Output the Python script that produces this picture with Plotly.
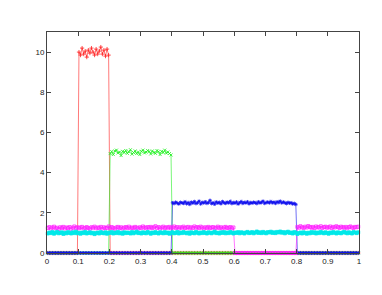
import plotly.graph_objects as go

# bin centres on [0, 1] (200 bins)
x_vals = [round(0.0025 + 0.005 * i, 4) for i in range(200)]

red_high = [10.0, 9.85, 10.2, 9.9, 10.05, 9.75, 10.1, 9.95, 10.2, 10.0,
            9.85, 10.15, 9.9, 10.05, 10.25, 9.9, 10.1, 9.8, 10.15, 9.85]
green_high = [4.95, 5.05, 4.9, 5.08, 5.12, 4.98, 5.02, 4.85, 5.06, 5.0,
              5.1, 4.96, 5.04, 5.14, 4.92, 5.0, 5.08, 4.95, 5.03, 4.9,
              5.06, 5.12, 4.98, 5.02, 5.1, 5.05, 4.93, 5.08, 5.0, 4.96,
              5.1, 5.04, 4.9, 5.06, 5.0, 5.12, 4.97, 5.03, 4.95, 4.88]
blue_high = [2.5, 2.46, 2.53, 2.48, 2.44, 2.52, 2.5, 2.47, 2.55, 2.45,
             2.51, 2.42, 2.53, 2.48, 2.56, 2.46, 2.5, 2.58, 2.44, 2.52,
             2.49, 2.55, 2.47, 2.51, 2.62, 2.46, 2.5, 2.43, 2.54, 2.48,
             2.52, 2.45, 2.56, 2.5, 2.47, 2.53, 2.49, 2.57, 2.46, 2.51,
             2.48, 2.54, 2.44, 2.5, 2.56, 2.47, 2.52, 2.49, 2.55, 2.45,
             2.51, 2.48, 2.53, 2.5, 2.46, 2.55, 2.49, 2.52, 2.58, 2.47,
             2.51, 2.54, 2.49, 2.56, 2.5, 2.53, 2.47, 2.55, 2.51, 2.58,
             2.49, 2.54, 2.5, 2.46, 2.52, 2.48, 2.5, 2.44, 2.47, 2.42]
magenta_a = [1.24, 1.29, 1.22, 1.27, 1.31, 1.23, 1.26, 1.2, 1.28, 1.25,
             1.3, 1.22, 1.27, 1.24, 1.29, 1.21, 1.26, 1.32, 1.24, 1.28,
             1.23, 1.27, 1.3, 1.22, 1.25, 1.29, 1.24, 1.21, 1.28, 1.26,
             1.31, 1.23, 1.27, 1.25, 1.3, 1.22, 1.28, 1.24, 1.26, 1.32,
             1.23, 1.29, 1.25, 1.21, 1.27, 1.3, 1.24, 1.28, 1.22, 1.26,
             1.29, 1.25, 1.31, 1.23, 1.27, 1.24, 1.3, 1.26, 1.22, 1.28,
             1.25, 1.32, 1.27, 1.23, 1.29, 1.26, 1.3, 1.24, 1.28, 1.33,
             1.25, 1.29, 1.22, 1.27, 1.31, 1.24, 1.28, 1.26, 1.3, 1.23,
             1.27, 1.32, 1.25, 1.29, 1.22, 1.28, 1.26, 1.31, 1.24, 1.27,
             1.3, 1.23, 1.28, 1.25, 1.32, 1.26, 1.29, 1.24, 1.31, 1.27,
             1.22, 1.28, 1.25, 1.3, 1.24, 1.27, 1.29, 1.23, 1.26, 1.31,
             1.25, 1.28, 1.22, 1.27, 1.3, 1.24, 1.26, 1.29, 1.23, 1.27]
magenta_b = [1.3, 1.26, 1.33, 1.28, 1.25, 1.31, 1.27, 1.34, 1.29, 1.26,
             1.3, 1.24, 1.32, 1.28, 1.27, 1.33, 1.25, 1.29, 1.31, 1.26,
             1.28, 1.32, 1.24, 1.3, 1.27, 1.33, 1.29, 1.25, 1.31, 1.28,
             1.26, 1.3, 1.23, 1.29, 1.32, 1.27, 1.25, 1.3, 1.28, 1.31]
cyan_vals = [0.97, 1.02, 0.99, 1.04, 0.96, 1.01, 1.05, 0.98, 1.0, 1.03,
             0.95, 1.01, 0.98, 1.04, 1.0, 0.97, 1.03, 0.99, 1.06, 0.98,
             1.01, 0.96, 1.02, 0.99, 1.05, 0.97, 1.0, 1.03, 0.98, 1.01,
             0.94, 0.99, 1.02, 0.97, 1.04, 1.0, 0.98, 1.03, 0.96, 1.01,
             1.0, 1.04, 0.97, 1.02, 0.99, 1.05, 0.98, 1.01, 0.96, 1.03,
             0.99, 1.02, 1.0, 0.97, 1.04, 0.98, 1.02, 1.06, 0.99, 1.01,
             0.97, 1.03, 1.0, 0.98, 1.05, 1.01, 0.96, 1.02, 0.99, 1.04,
             1.0, 0.97, 1.03, 1.01, 0.98, 1.04, 0.99, 1.02, 0.96, 1.01,
             1.03, 0.98, 1.0, 1.05, 0.97, 1.02, 0.99, 1.04, 1.01, 0.98,
             1.02, 0.96, 1.03, 1.0, 0.98, 1.05, 1.01, 0.97, 1.02, 0.99,
             1.04, 1.0, 0.97, 1.03, 1.01, 0.98, 1.02, 1.06, 0.99, 1.01,
             0.97, 1.03, 1.0, 1.04, 0.98, 1.02, 0.99, 1.05, 1.01, 0.97,
             1.02, 1.0, 1.04, 0.98, 1.03, 1.01, 0.97, 1.02, 1.05, 0.99,
             1.01, 1.04, 0.98, 1.02, 1.07, 1.0, 1.03, 0.99, 1.05, 1.01,
             0.98, 1.04, 1.02, 1.06, 1.0, 1.03, 0.99, 1.05, 1.02, 1.07,
             1.01, 1.04, 0.98, 1.03, 1.06, 1.0, 1.02, 0.97, 1.04, 1.01,
             0.95, 0.99, 1.02, 0.97, 1.03, 1.0, 0.96, 1.01, 0.98, 1.04,
             1.0, 1.03, 0.97, 1.02, 0.99, 1.05, 1.01, 0.98, 1.03, 1.0,
             0.96, 1.02, 0.99, 1.04, 1.01, 0.97, 1.03, 1.0, 0.98, 1.02,
             1.05, 1.01, 0.98, 1.03, 1.0, 0.97, 1.04, 1.02, 0.99, 1.03]

red_vals = [0.0] * 20 + red_high + [0.0] * 160
green_vals = [0.0] * 40 + green_high + [0.0] * 120
blue_vals = [0.0] * 80 + blue_high + [0.0] * 40
magenta_vals = magenta_a + [0.0] * 40 + magenta_b

x_ticks = [0, 0.1, 0.2, 0.3, 0.4, 0.5, 0.6, 0.7, 0.8, 0.9, 1]
x_tick_text = ["0", "0.1", "0.2", "0.3", "0.4", "0.5", "0.6", "0.7", "0.8", "0.9", "1"]
y_ticks = [0, 2, 4, 6, 8, 10]

series = [
    (red_vals, "#ff2020", "cross-thin-open"),
    (green_vals, "#20f020", "x-thin-open"),
    (blue_vals, "#1010ee", "asterisk-open"),
    (magenta_vals, "#ff20ff", "square-open"),
    (cyan_vals, "#00e8e8", "square"),
]

fig = go.Figure()
for vals, col, sym in series:
    fig.add_trace(go.Scatter(
        x=x_vals, y=vals, mode="lines+markers",
        line=dict(color=col, width=0.6),
        marker=dict(symbol=sym, size=3, color=col,
                    line=dict(color=col, width=0.8)),
        showlegend=False, cliponaxis=False,
    ))

axis_common = dict(
    showgrid=False, zeroline=False, showline=True, linecolor="#444",
    linewidth=1, mirror="ticks", ticks="inside", ticklen=4,
    tickcolor="#444", tickfont=dict(family="Liberation Sans", size=8, color="#222"),
)
fig.update_xaxes(range=[0, 1], tickvals=x_ticks, ticktext=x_tick_text, **axis_common)
fig.update_yaxes(range=[0, 11], tickvals=y_ticks, **axis_common)
fig.update_layout(
    width=382, height=295,
    margin=dict(l=39, r=31, t=24, b=50),
    paper_bgcolor="white", plot_bgcolor="white",
)
fig.write_html("out.html")
